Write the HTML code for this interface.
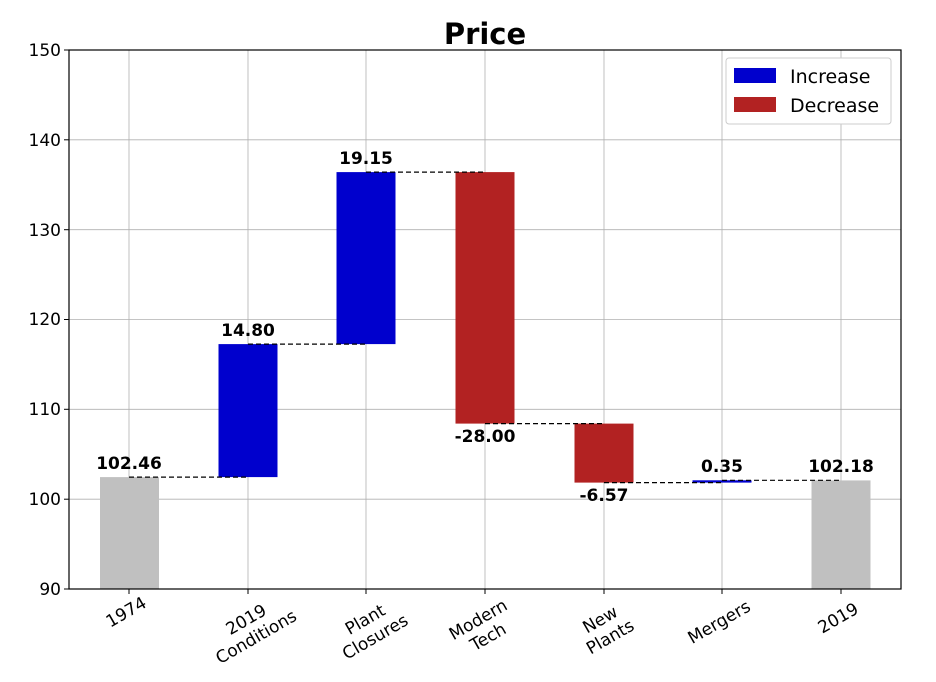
<!DOCTYPE html>
<html><head><meta charset="utf-8"><style>body{margin:0;background:#fff}svg{display:block}text{font-family:"DejaVu Sans","Liberation Sans",sans-serif}</style></head><body>
<svg width="936" height="682" viewBox="0 0 936 682">
<g stroke="#b0b0b0" stroke-width="0.8">
<line x1="129" y1="50" x2="129" y2="589"/><line x1="248" y1="50" x2="248" y2="589"/><line x1="366" y1="50" x2="366" y2="589"/><line x1="485" y1="50" x2="485" y2="589"/><line x1="604" y1="50" x2="604" y2="589"/><line x1="722" y1="50" x2="722" y2="589"/><line x1="841" y1="50" x2="841" y2="589"/>
<line x1="69" y1="499.2" x2="901" y2="499.2"/><line x1="69" y1="409.3" x2="901" y2="409.3"/><line x1="69" y1="319.5" x2="901" y2="319.5"/><line x1="69" y1="229.7" x2="901" y2="229.7"/><line x1="69" y1="139.8" x2="901" y2="139.8"/>
</g>
<rect x="100" y="477.1" width="59" height="111.9" fill="#c0c0c0"/>
<rect x="218.5" y="344.1" width="59" height="133" fill="#0000cd"/>
<rect x="336.5" y="172.1" width="59" height="172" fill="#0000cd"/>
<rect x="455.5" y="172.1" width="59" height="251.5" fill="#b22222"/>
<rect x="574.5" y="423.6" width="59" height="59" fill="#b22222"/>
<rect x="692.5" y="480.3" width="59" height="2.3" fill="#0000cd"/>
<rect x="811.5" y="480.4" width="59" height="108.6" fill="#c0c0c0"/>
<g stroke="#000" stroke-width="1.2" stroke-dasharray="5,3">
<line x1="129" y1="477.1" x2="248" y2="477.1"/><line x1="248" y1="344.1" x2="366" y2="344.1"/><line x1="366" y1="172.1" x2="485" y2="172.1"/><line x1="485" y1="423.6" x2="604" y2="423.6"/><line x1="604" y1="482.6" x2="722" y2="482.6"/><line x1="722" y1="480.3" x2="841" y2="480.3"/>
</g>
<rect x="69" y="50" width="832" height="539" fill="none" stroke="#000" stroke-width="1.2"/>
<g font-size="17" font-weight="bold" text-anchor="middle">
<text x="129" y="469">102.46</text><text x="248" y="336">14.80</text><text x="366" y="164">19.15</text><text x="485" y="442">-28.00</text><text x="604" y="501">-6.57</text><text x="722" y="472">0.35</text><text x="841" y="472">102.18</text>
</g>
<text x="485" y="44" font-size="29" font-weight="bold" text-anchor="middle">Price</text>
<g font-size="17" text-anchor="end">
<text x="61" y="595">90</text><text x="61" y="505">100</text><text x="61" y="415">110</text><text x="61" y="325">120</text><text x="61" y="236">130</text><text x="61" y="146">140</text><text x="61" y="56">150</text>
</g>
<g stroke="#000" stroke-width="1"><line x1="64" y1="589" x2="69" y2="589"/><line x1="64" y1="499.2" x2="69" y2="499.2"/><line x1="64" y1="409.3" x2="69" y2="409.3"/><line x1="64" y1="319.5" x2="69" y2="319.5"/><line x1="64" y1="229.7" x2="69" y2="229.7"/><line x1="64" y1="139.8" x2="69" y2="139.8"/><line x1="64" y1="50" x2="69" y2="50"/>
<line x1="129" y1="589" x2="129" y2="594"/><line x1="248" y1="589" x2="248" y2="594"/><line x1="366" y1="589" x2="366" y2="594"/><line x1="485" y1="589" x2="485" y2="594"/><line x1="604" y1="589" x2="604" y2="594"/><line x1="722" y1="589" x2="722" y2="594"/><line x1="841" y1="589" x2="841" y2="594"/></g>
<g font-size="17" text-anchor="middle">
<text transform="translate(129,617) rotate(-30)">1974</text>
<text transform="translate(251,628) rotate(-30)"><tspan x="0" y="-4">2019</tspan><tspan x="0" y="16">Conditions</tspan></text>
<text transform="translate(370,628) rotate(-30)"><tspan x="0" y="-4">Plant</tspan><tspan x="0" y="16">Closures</tspan></text>
<text transform="translate(483,628) rotate(-30)"><tspan x="0" y="-4">Modern</tspan><tspan x="0" y="16">Tech</tspan></text>
<text transform="translate(605,628) rotate(-30)"><tspan x="0" y="-4">New</tspan><tspan x="0" y="16">Plants</tspan></text>
<text transform="translate(722,627) rotate(-30)">Mergers</text>
<text transform="translate(841,623) rotate(-30)">2019</text>
</g>
<rect x="726" y="58" width="165" height="66" rx="3" fill="#fff" stroke="#ccc"/>
<rect x="734" y="68" width="42" height="15" fill="#0000cd"/>
<rect x="734" y="97" width="42" height="15" fill="#b22222"/>
<text x="790" y="83" font-size="19">Increase</text>
<text x="790" y="112" font-size="19">Decrease</text>
</svg>
</body></html>
